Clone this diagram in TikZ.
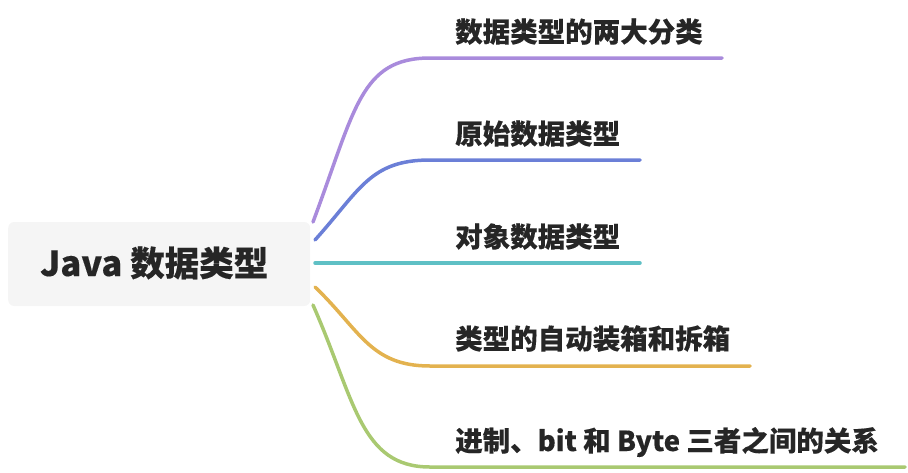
\documentclass[tikz,border=0pt]{standalone}
\usepackage{fontspec}
\setmainfont{Noto Sans CJK SC}[FakeBold=0.3]
\begin{document}
\begin{tikzpicture}[x=1pt,y=-1pt,
  br/.style={line width=3.5pt,line cap=round},
  lbl/.style={anchor=base west,font=\bfseries\fontsize{27.5}{29}\selectfont,text=black!85,inner sep=0pt}]
\definecolor{cA}{HTML}{A98BDC}\definecolor{cB}{HTML}{6B7FD7}
\definecolor{cC}{HTML}{5FC0C5}\definecolor{cD}{HTML}{E3B24F}
\definecolor{cE}{HTML}{A9C971}
\useasboundingbox (0,0) rectangle (908,472);
\node[fill=black!4,rounded corners=6pt,minimum width=302pt,minimum height=84pt,anchor=west,inner sep=0pt] (root) at (8,264) {};
\node[anchor=base west,inner sep=0pt,font=\bfseries\fontsize{34.5}{36}\selectfont,text=black!85] (rt) at (40,276) {Java 数据类型};
\coordinate (s1) at (313,222);\coordinate (s2) at (315,240);\coordinate (s3) at (315,263);
\coordinate (s4) at (315,287);\coordinate (s5) at (313,305);
\coordinate (a1) at (430,58);\coordinate (e1) at (722,58);
\coordinate (a2) at (430,160);\coordinate (e2) at (640,160);
\coordinate (e3) at (640,263);
\coordinate (a4) at (430,366);\coordinate (e4) at (750,366);
\coordinate (a5) at (430,467);\coordinate (e5) at (905,467);
\draw[br,cA] (s1) .. controls (355,110) and (360,58) .. (a1) -- (e1);
\draw[br,cB] (s2) .. controls (360,190) and (370,160) .. (a2) -- (e2);
\draw[br,cC] (s3) -- (e3);
\draw[br,cD] (s4) .. controls (360,330) and (370,366) .. (a4) -- (e4);
\draw[br,cE] (s5) .. controls (355,400) and (360,467) .. (a5) -- (e5);
\node[lbl] (t1) at (455,42) {数据类型的两大分类};
\node[lbl] (t2) at (455,144) {原始数据类型};
\node[lbl] (t3) at (455,247) {对象数据类型};
\node[lbl] (t4) at (455,349) {类型的自动装箱和拆箱};
\node[lbl] (t5) at (455,451) {进制、bit 和 Byte 三者之间的关系};
\end{tikzpicture}
\end{document}
